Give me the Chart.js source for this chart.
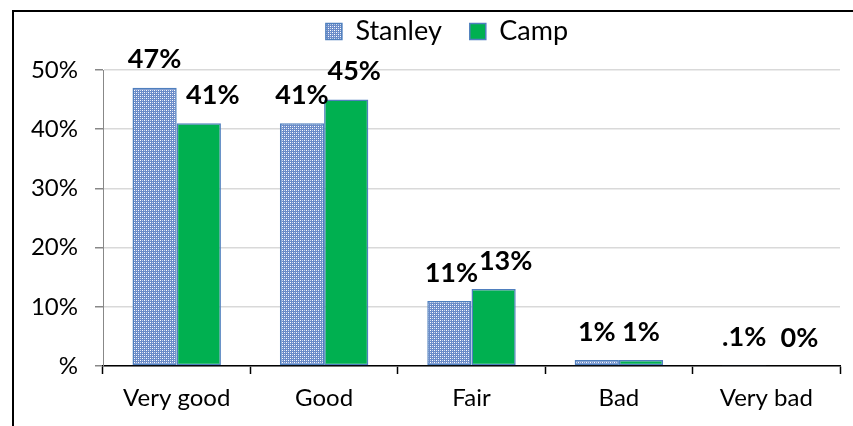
<!DOCTYPE html>
<html>
<head>
<meta charset="utf-8">
<script src="https://cdn.jsdelivr.net/npm/chart.js@4/dist/chart.umd.min.js"></script>
<style>
  body { margin: 0; background: #fff; }
  #wrap { position: relative; width: 853px; height: 426px; }
  #frame { position: absolute; left: 12px; top: 10px; right: 0; bottom: 0;
           border-top: 2px solid #000; border-left: 2px solid #000; pointer-events: none; }
</style>
</head>
<body>
<div id="wrap">
  <canvas id="chart" width="853" height="426"></canvas>
  <div id="frame"></div>
</div>
<script>
// categories and values (percent)
const categories = ['Very good', 'Good', 'Fair', 'Bad', 'Very bad'];
const stanleyValues = [47, 41, 11, 1, 0.1];
const campValues = [41, 45, 13, 1, 0];
const stanleyLabels = ['47%', '41%', '11%', '1%', '.1%'];
const campLabels = ['41%', '45%', '13%', '1%', '0%'];
const yTicks = [0, 10, 20, 30, 40, 50];

// small horizontal nudges for the value labels (like Excel placed them)
const labelShift = [[0, 0, 2, 0, 0], [14, 8, 12, 0, 11]];

// checker pattern for the Stanley bars
function makePattern() {
  const c = document.createElement('canvas');
  c.width = 4; c.height = 4;
  const g = c.getContext('2d');
  g.fillStyle = '#6a8bc8';
  g.fillRect(0, 0, 4, 4);
  g.fillStyle = '#ffffff';
  g.fillRect(0, 0, 1, 1);
  g.fillRect(2, 2, 1, 1);
  g.fillStyle = '#cbd7ee';
  g.fillRect(2, 0, 1, 1);
  g.fillRect(0, 2, 1, 1);
  return g.createPattern(c, 'repeat');
}

const barLabels = {
  id: 'barLabels',
  afterDatasetsDraw(chart) {
    const ctx = chart.ctx;
    const texts = [stanleyLabels, campLabels];
    ctx.save();
    ctx.font = 'bold 27px Lato';
    ctx.fillStyle = '#000';
    ctx.textAlign = 'center';
    ctx.textBaseline = 'middle';
    chart.data.datasets.forEach((ds, di) => {
      chart.getDatasetMeta(di).data.forEach((bar, i) => {
        ctx.fillText(texts[di][i], bar.x + labelShift[di][i], bar.y - 28);
      });
    });
    ctx.restore();
  }
};

// fixed legend height (so the plot starts lower) and legend nudged right
const legendSpace = {
  id: 'legendSpace',
  beforeLayout(chart) {
    const lg = chart.legend;
    if (lg && !lg._fixed) {
      const fit = lg.fit;
      lg.fit = function () { fit.call(this); this.height = 80; };
      lg._fixed = true;
    }
  },
  afterLayout(chart) {
    chart.legend.left += 27;
    chart.legend.right += 27;
  }
};

const ctx = document.getElementById('chart').getContext('2d');
new Chart(ctx, {
  type: 'bar',
  data: {
    labels: categories,
    datasets: [{
      label: 'Stanley',
      data: stanleyValues,
      backgroundColor: makePattern(),
      borderColor: '#4f7fbe',
      borderWidth: 1.5,
      borderSkipped: false
    }, {
      label: 'Camp',
      data: campValues,
      backgroundColor: '#00b050',
      borderColor: '#4f7fbe',
      borderWidth: 1.5,
      borderSkipped: false
    }]
  },
  options: {
    responsive: false,
    animation: false,
    layout: { padding: { top: -10, right: 13, left: 0, bottom: 0 } },
    datasets: { bar: { categoryPercentage: 0.6, barPercentage: 1.0 } },
    plugins: {
      legend: {
        position: 'top',
        labels: {
          font: { family: 'Lato', size: 27 },
          color: '#000',
          boxWidth: 16,
          boxHeight: 16,
          padding: 28
        }
      },
      tooltip: { enabled: false }
    },
    scales: {
      x: {
        grid: { display: true, drawOnChartArea: false, offset: true, tickLength: 8, tickColor: '#000', tickWidth: 1.5 },
        border: { color: '#000', width: 1.5 },
        ticks: { font: { family: 'Lato', size: 24 }, color: '#000', padding: 10, maxRotation: 0 },
        afterFit(s) { s.height = 60; }
      },
      y: {
        min: 0,
        max: 50,
        afterBuildTicks(s) { s.ticks = yTicks.map(v => ({ value: v })); },
        grid: { color: '#d9d9d9', lineWidth: 1.5, tickLength: 8, tickColor: '#888' },
        border: { color: '#888', width: 1 },
        ticks: {
          font: { family: 'Lato', size: 24 },
          color: '#000',
          padding: 17,
          callback: v => (v === 0 ? '%' : v + '%')
        },
        afterFit(s) { s.width = 103; }
      }
    }
  },
  plugins: [barLabels, legendSpace]
});
</script>
</body>
</html>
